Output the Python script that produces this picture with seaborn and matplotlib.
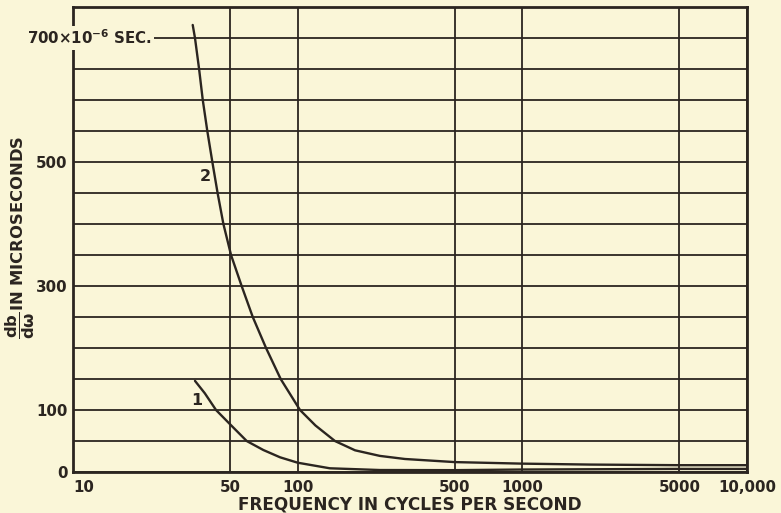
import matplotlib
matplotlib.use("Agg")
import matplotlib.pyplot as plt
import matplotlib.transforms as mtransforms
import seaborn as sns
import pandas as pd

# Group delay (microseconds) against frequency (cycles per second)
freq_2 = [34.1, 34.9, 36.4, 37.8, 39.6, 41.7, 44.0, 46.7, 50.5, 56.3, 63.1, 72.3, 84.0,
          102.4, 120, 146.5, 180, 232, 300, 500, 1000, 2000, 5000, 10000]
delay_2 = [721, 700, 650, 600, 550, 500, 450, 400, 350, 300, 250, 200, 150,
           100, 75, 50, 35, 26, 21, 16, 13.5, 12, 11, 11]

freq_1 = [34.9, 38.6, 43.3, 50, 59.3, 70.3, 83.5, 100, 139, 232, 500, 1000, 5000, 10000]
delay_1 = [147, 127, 100, 77, 50, 35.5, 23.7, 15, 6, 3.2, 3, 4, 5, 5]

x_ticks = [10, 50, 100, 500, 1000, 5000, 10000]
x_tick_labels = ["10", "50", "100", "500", "1000", "5000", "10,000"]
y_grid = list(range(0, 701, 50))
y_tick_labels = {0: "0", 100: "100", 300: "300", 500: "500"}

paper = "#faf6d8"
ink = "#2b2520"

df = pd.concat([
    pd.DataFrame({"freq": freq_1, "delay": delay_1, "curve": "1"}),
    pd.DataFrame({"freq": freq_2, "delay": delay_2, "curve": "2"}),
], ignore_index=True)

sns.set_theme(style="white")
plt.rcParams["font.family"] = ["DejaVu Sans"]
plt.rcParams["mathtext.fontset"] = "dejavusans"

fig = plt.figure(figsize=(7.81, 5.13), dpi=100, facecolor=paper)
ax = fig.add_axes([0.0935, 0.0799, 0.863, 0.9065], facecolor=paper)

sns.lineplot(data=df, x="freq", y="delay", hue="curve", palette=[ink, ink],
             legend=False, ax=ax, linewidth=1.7, zorder=3)

ax.set_xscale("log")
ax.set_xlim(10, 10000)
ax.set_ylim(0, 750)
ax.set_xticks(x_ticks)
ax.set_xticklabels(x_tick_labels)
ax.minorticks_off()
ax.set_yticks(y_grid)
ax.set_yticklabels([y_tick_labels.get(v, "") for v in y_grid])

ax.grid(True, color=ink, linewidth=1.3)
for s in ax.spines.values():
    s.set_color(ink)
    s.set_linewidth(2.0)

ax.tick_params(axis="both", length=0, colors=ink, labelsize=10.8)
ax.tick_params(axis="x", pad=6)
ax.tick_params(axis="y", pad=4)
for lab in ax.get_xticklabels() + ax.get_yticklabels():
    lab.set_fontweight("bold")
ax.xaxis.get_major_ticks()[0].label1.set_horizontalalignment("left")

ax.set_xlabel("FREQUENCY IN CYCLES PER SECOND", fontsize=12.2, fontweight="bold",
              color=ink, labelpad=0)
ax.set_ylabel(r"$\mathbf{\dfrac{db}{d\omega}}$IN MICROSECONDS", fontsize=11.8,
              fontweight="bold", color=ink)
ax.yaxis.set_label_coords(-0.053, 0.505)

# unit label on the top grid line, masking the spine behind it
trans = mtransforms.blended_transform_factory(ax.transAxes, ax.transData)
ax.text(0.117, 700, r"700×10$^{\mathbf{-6}}$ SEC.", transform=trans, ha="right",
        va="center", fontsize=10.8, fontweight="bold", color=ink, clip_on=False,
        zorder=10,
        bbox=dict(boxstyle="square,pad=0.15", facecolor=paper, edgecolor="none"))

# curve numbers
ax.text(35.7, 116, "1", fontsize=11.5, fontweight="bold", color=ink, ha="center", va="center")
ax.text(38.7, 476, "2", fontsize=11.5, fontweight="bold", color=ink, ha="center", va="center")

fig.savefig("out.png", dpi=100, facecolor=paper)
